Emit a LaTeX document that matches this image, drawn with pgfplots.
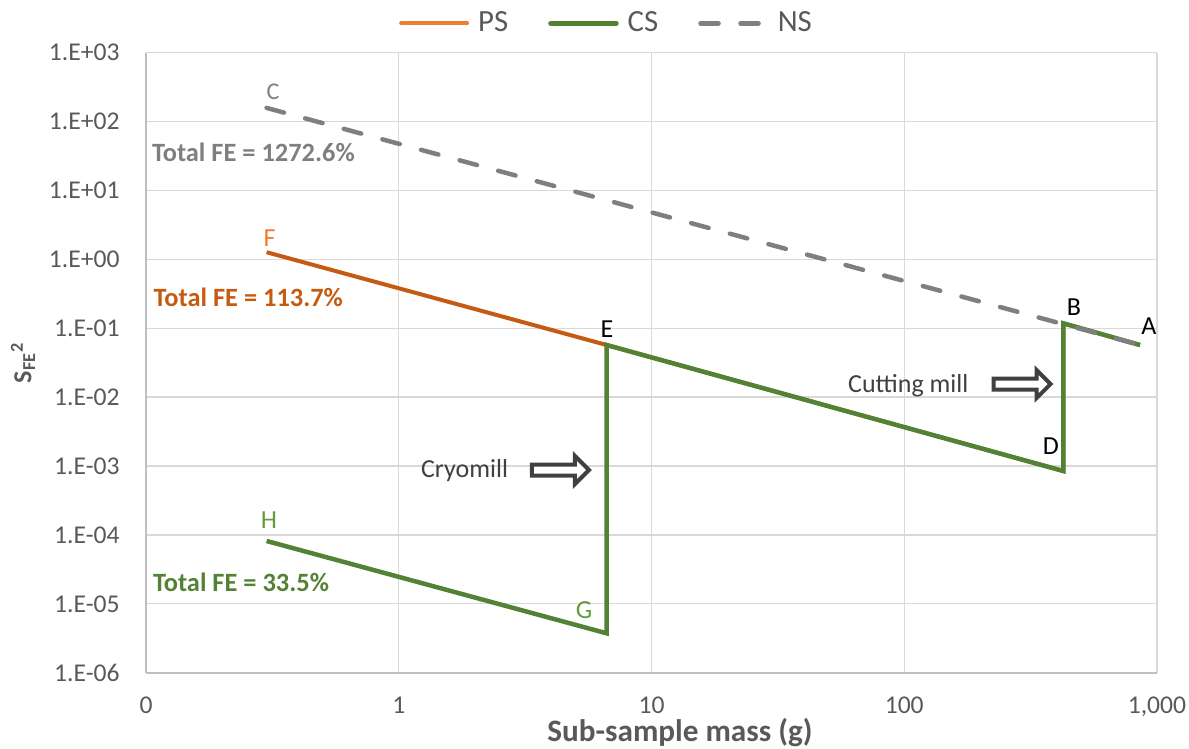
\documentclass[border=0pt]{standalone}
\usepackage{fontspec}
\setmainfont{Carlito}
\usepackage{pgfplots}
\pgfplotsset{compat=1.18}
\definecolor{orgD}{HTML}{C55A11}
\definecolor{orgL}{HTML}{ED7D31}
\definecolor{grn}{HTML}{548235}
\definecolor{grnL}{HTML}{649A40}
\definecolor{nsgray}{HTML}{7F7F7F}
\definecolor{txtgray}{HTML}{595959}
\definecolor{gridc}{HTML}{D9D9D9}
\definecolor{axc}{HTML}{BFBFBF}
\definecolor{arrc}{HTML}{404040}
\newcommand{\fs}[1]{\fontsize{#1}{#1}\selectfont}
\newcommand{\blockarrow}[1]{\draw[draw=arrc, fill=white, line width=2pt, line join=miter] (#1) ++(1pt,2.75pt) -- ++(21.5pt,0pt) -- ++(0pt,4.25pt) -- ++(7pt,-7pt) -- ++(-7pt,-7pt) -- ++(0pt,4.25pt) -- ++(-21.5pt,0pt) -- cycle;}
\begin{document}
\begin{tikzpicture}
\useasboundingbox (-73pt,-38.15pt) rectangle (521.5pt,336.35pt);
\begin{axis}[
  at={(0pt,0pt)}, anchor=south west,
  scale only axis, width=505.5pt, height=310pt,
  xmode=log, ymode=log,
  xmin=0.1, xmax=1000, ymin=1e-6, ymax=1e3,
  xtick={0.1,1,10,100,1000},
  xticklabels={0,1,10,100,{1,000}},
  ytick={1e-6,1e-5,1e-4,1e-3,1e-2,1e-1,1,10,100,1000},
  yticklabels={1.E-06,1.E-05,1.E-04,1.E-03,1.E-02,1.E-01,1.E+00,1.E+01,1.E+02,1.E+03},
  grid=major,
  major grid style={draw=gridc, line width=0.65pt},
  axis x line*=bottom, axis y line*=left,
  axis line style={-, draw=axc, line width=1pt},
  tick style={draw=none},
  ticklabel style={font=\fs{12.8}, text=txtgray},
  yticklabel style={anchor=east, inner sep=0pt, xshift=-13pt},
  xticklabel style={anchor=north, inner sep=0pt, yshift=-12pt},
  xlabel={Sub-sample mass (g)},
  xlabel style={at={(axis description cs:0.5282,-0.1105)}, anchor=base, inner sep=0pt, font=\bfseries\fs{15.6}, text=txtgray},
  ylabel={S\textsubscript{FE}\textsuperscript{2}},
  ylabel style={at={(axis description cs:-0.1217,0.5)}, anchor=center, inner sep=0pt, font=\bfseries\fs{13}, text=txtgray},
  legend columns=3,
  legend cell align=left,
  legend style={at={(axis description cs:0.4545,1.0474)}, anchor=center, draw=none, fill=none, inner sep=0pt, font=\fs{15.4}, text=txtgray, nodes={inner sep=0pt}, /tikz/every even column/.append style={column sep=20pt}, /tikz/every odd column/.append style={column sep=4.5pt}},
  legend image code/.code={\draw[#1] (0pt,0pt) -- (33pt,0pt);},
  clip=false,
]
\addplot[forget plot, draw=orgD, line width=2pt, line join=miter] coordinates {(857,0.0571) (425.8,0.118) (425.8,8.47e-4) (6.65,0.0571) (0.3,1.27)};
\addplot[forget plot, draw=grn, line width=2.25pt, line join=miter] coordinates {(857,0.0571) (425.8,0.118) (425.8,8.47e-4) (6.65,0.0571) (6.65,3.73e-6) (0.3,8.17e-5)};
\addplot[forget plot, draw=nsgray, line width=2.25pt, line cap=round, dash pattern=on 9pt off 11pt] coordinates {(0.3,158) (857,0.0571)};
\addlegendimage{draw=orgL, line width=2pt, line cap=round}
\addlegendentry{PS}
\addlegendimage{draw=grn, line width=2.25pt, line cap=round}
\addlegendentry{CS}
\addlegendimage{draw=nsgray, line width=2.25pt, line cap=round, dash pattern=on 9pt off 11pt}
\addlegendentry{NS}
% annotations
\node[anchor=base, inner sep=0pt, font=\fs{12}, text=nsgray] at (axis description cs:0.1256,0.9248) {C};
\node[anchor=base west, inner sep=0pt, font=\bfseries\fs{13.2}, text=nsgray] at (axis description cs:0.0056,0.8242) {Total FE = 1272.6\%};
\node[anchor=base, inner sep=0pt, font=\fs{13}, text=orgL] at (axis description cs:0.1222,0.6871) {F};
\node[anchor=base west, inner sep=0pt, font=\bfseries\fs{13.2}, text=orgD] at (axis description cs:0.0072,0.5903) {Total FE = 113.7\%};
\node[anchor=base, inner sep=0pt, font=\fs{13}, text=grnL] at (axis description cs:0.1217,0.2329) {H};
\node[anchor=base west, inner sep=0pt, font=\bfseries\fs{13.2}, text=grn] at (axis description cs:0.0066,0.1306) {Total FE = 33.5\%};
\node[anchor=base, inner sep=0pt, font=\fs{13}, text=black] at (axis description cs:0.4560,0.5410) {E};
\node[anchor=base, inner sep=0pt, font=\fs{13}, text=grnL] at (axis description cs:0.4332,0.0877) {G};
\node[anchor=base west, inner sep=0pt, font=\fs{13}, text=arrc] at (axis description cs:0.2717,0.3145) {Cryomill};
\node[anchor=base, inner sep=0pt, font=\fs{13}, text=black] at (axis description cs:0.9179,0.5769) {B};
\node[anchor=base, inner sep=0pt, font=\fs{13}, text=black] at (axis description cs:0.9921,0.5447) {A};
\node[anchor=base, inner sep=0pt, font=\fs{13}, text=black] at (axis description cs:0.8951,0.3527) {D};
\node[anchor=base west, inner sep=0pt, font=\fs{13}, text=arrc] at (axis description cs:0.6941,0.4516) {Cutting mill};
\blockarrow{axis description cs:0.8364,0.4656}
\blockarrow{axis description cs:0.3798,0.3269}
\end{axis}
\end{tikzpicture}
\end{document}
